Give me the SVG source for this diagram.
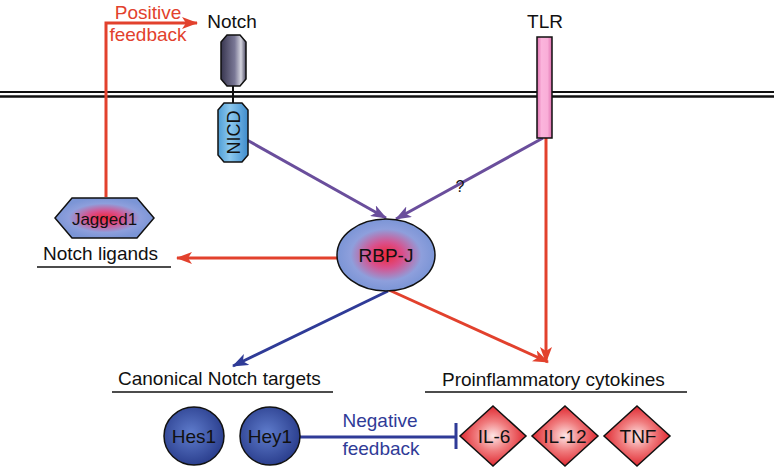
<svg xmlns="http://www.w3.org/2000/svg" width="774" height="468" viewBox="0 0 774 468">
<defs>
<style>
text{font-family:"Liberation Sans",Arial,sans-serif;font-size:19px;fill:#111}
.red{stroke:#e2412d;stroke-width:3;fill:none}
.blue{stroke:#2f3b97;stroke-width:3;fill:none}
.purple{stroke:#6a4e9c;stroke-width:3;fill:none}
.ol{stroke:#111;stroke-width:1.5}
.ul{stroke:#111;stroke-width:1.3}
</style>
<marker id="ar" viewBox="0 0 16 12" refX="15" refY="6" markerWidth="16" markerHeight="12" markerUnits="userSpaceOnUse" orient="auto"><path d="M0,0 L16,6 L0,12 L4,6 z" fill="#e2412d"/></marker>
<marker id="ab" viewBox="0 0 16 12" refX="15" refY="6" markerWidth="16" markerHeight="12" markerUnits="userSpaceOnUse" orient="auto"><path d="M0,0 L16,6 L0,12 L4,6 z" fill="#2f3b97"/></marker>
<marker id="ap" viewBox="0 0 16 12" refX="15" refY="6" markerWidth="16" markerHeight="12" markerUnits="userSpaceOnUse" orient="auto"><path d="M0,0 L16,6 L0,12 L4,6 z" fill="#6a4e9c"/></marker>
<radialGradient id="gRB" cx="0.5" cy="0.5" r="0.5">
<stop offset="0" stop-color="#f02838"/><stop offset="0.35" stop-color="#d9508c"/><stop offset="0.72" stop-color="#8e9fdc"/><stop offset="1" stop-color="#7b95d6"/>
</radialGradient>
<radialGradient id="gH" cx="0.45" cy="0.45" r="0.55">
<stop offset="0" stop-color="#5f7ccc"/><stop offset="1" stop-color="#2c408f"/>
</radialGradient>
<radialGradient id="gD" cx="0.5" cy="0.5" r="0.5">
<stop offset="0" stop-color="#fde6e6"/><stop offset="0.5" stop-color="#f07c7e"/><stop offset="1" stop-color="#e02a32"/>
</radialGradient>
<linearGradient id="gN" x1="0" y1="0" x2="1" y2="0">
<stop offset="0" stop-color="#38364f"/><stop offset="0.55" stop-color="#7a7896"/><stop offset="0.8" stop-color="#d4d4de"/><stop offset="1" stop-color="#4a4862"/>
</linearGradient>
<linearGradient id="gI" x1="0" y1="0" x2="1" y2="0">
<stop offset="0" stop-color="#4f9ed6"/><stop offset="0.4" stop-color="#8cc8ee"/><stop offset="1" stop-color="#3f8ccc"/>
</linearGradient>
<linearGradient id="gT" x1="0" y1="0" x2="1" y2="0">
<stop offset="0" stop-color="#e070b0"/><stop offset="0.3" stop-color="#fbb4dc"/><stop offset="0.7" stop-color="#f9aed8"/><stop offset="1" stop-color="#e070b0"/>
</linearGradient>
</defs>
<rect width="774" height="468" fill="#fff"/>
<g id="membrane">
<line x1="0" y1="92" x2="774" y2="92" stroke="#111" stroke-width="2"/>
<line x1="0" y1="96.5" x2="774" y2="96.5" stroke="#111" stroke-width="2.5"/>
</g>
<g id="connectors">
<path class="red" d="M106,197 V23 H197" marker-end="url(#ar)"/>
<path class="purple" d="M247,140 L386,218" marker-end="url(#ap)"/>
<path class="purple" d="M543,138 L396,219" marker-end="url(#ap)"/>
<path class="red" d="M546,138 V362" marker-end="url(#ar)"/>
<path class="red" d="M337,258 H177" marker-end="url(#ar)"/>
<path class="blue" d="M388,291 L233,366" marker-end="url(#ab)"/>
<path class="red" d="M389,290 L548,362" marker-end="url(#ar)"/>
<path class="blue" d="M300,437 H456 M456,423 V449"/>
<text x="460" y="192" text-anchor="middle" style="font-size:16px">?</text>
</g>
<g id="positive-feedback-label">
<text x="148" y="19" text-anchor="middle" style="fill:#e2412d">Positive</text>
<text x="148" y="41" text-anchor="middle" style="fill:#e2412d">feedback</text>
</g>
<g id="notch">
<text x="232" y="28" text-anchor="middle">Notch</text>
<path class="ol" d="M227,35 H240 L246,42 V79 L240,86 H227 L221,79 V42 z" fill="url(#gN)"/>
<line x1="233" y1="86" x2="233" y2="103" stroke="#111" stroke-width="2"/>
</g>
<g id="nicd">
<path class="ol" d="M224,103 H242 L248,110 V155 L242,162 H224 L218,155 V110 z" fill="url(#gI)"/>
<text x="0" y="0" transform="translate(240,132.5) rotate(-90)" text-anchor="middle" style="font-size:18px">NICD</text>
</g>
<g id="tlr">
<text x="545" y="28" text-anchor="middle">TLR</text>
<rect class="ol" x="537" y="37" width="15" height="101" fill="url(#gT)"/>
</g>
<g id="jagged1">
<path class="ol" d="M55,218 L72,198 H137 L154,218 L137,238 H72 z" fill="url(#gRB)"/>
<text x="104.5" y="224.5" text-anchor="middle" style="font-size:17px">Jagged1</text>
</g>
<g id="notch-ligands">
<text x="43" y="260">Notch ligands</text>
<line class="ul" x1="37" y1="267" x2="171" y2="267"/>
</g>
<g id="rbpj">
<ellipse class="ol" cx="386" cy="255" rx="49" ry="36" fill="url(#gRB)"/>
<text x="386" y="262" text-anchor="middle">RBP-J</text>
</g>
<g id="canonical-label">
<text x="118" y="385">Canonical Notch targets</text>
<line class="ul" x1="112" y1="392" x2="333" y2="392"/>
</g>
<g id="proinflammatory-label">
<text x="442" y="386">Proinflammatory cytokines</text>
<line class="ul" x1="425" y1="392" x2="687" y2="392"/>
</g>
<g id="hes1">
<ellipse class="ol" cx="194" cy="436" rx="30" ry="29" fill="url(#gH)"/>
<text x="194" y="443" text-anchor="middle">Hes1</text>
</g>
<g id="hey1">
<ellipse class="ol" cx="270" cy="436" rx="30" ry="29" fill="url(#gH)"/>
<text x="270" y="443" text-anchor="middle">Hey1</text>
</g>
<g id="negative-feedback-label">
<text x="380" y="427" text-anchor="middle" style="fill:#2f3b97">Negative</text>
<text x="381" y="455" text-anchor="middle" style="fill:#2f3b97">feedback</text>
</g>
<g id="il6">
<path class="ol" d="M493,406 L526,436 L493,466 L460,436 z" fill="url(#gD)"/>
<text x="494" y="443" text-anchor="middle">IL-6</text>
</g>
<g id="il12">
<path class="ol" d="M565,406 L598,436 L565,466 L532,436 z" fill="url(#gD)"/>
<text x="565" y="443" text-anchor="middle">IL-12</text>
</g>
<g id="tnf">
<path class="ol" d="M637,406 L670,436 L637,466 L604,436 z" fill="url(#gD)"/>
<text x="638" y="443" text-anchor="middle">TNF</text>
</g>
</svg>
